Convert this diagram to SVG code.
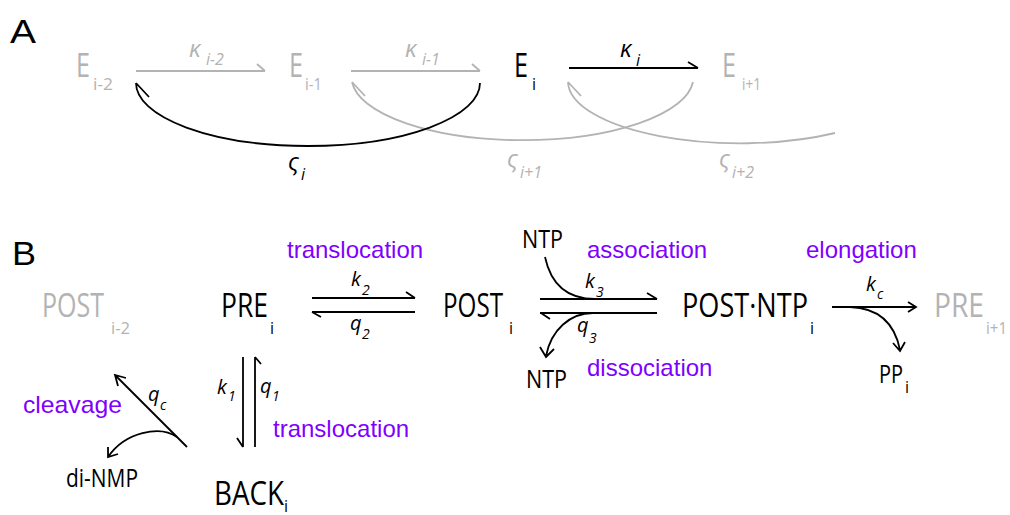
<svg xmlns="http://www.w3.org/2000/svg" width="1010" height="515" viewBox="0 0 1010 515">
<style>
.n{font-family:"Open Sans","Noto Sans",sans-serif;font-size:33px;fill:#000}
.s{font-family:"Open Sans","Noto Sans",sans-serif;font-size:25px;fill:#000}
.sub{font-family:"Open Sans","Noto Sans",sans-serif;font-size:16px;fill:#000}
.r{font-family:"Open Sans","Noto Sans",sans-serif;font-style:italic;font-size:20px;fill:#000}
.g{font-family:"Open Sans","Noto Sans",sans-serif;font-style:italic;font-size:24px;fill:#000}
.rs{font-family:"Open Sans","Noto Sans",sans-serif;font-style:italic;font-size:14px;fill:#000}
.gs{font-family:"Open Sans","Noto Sans",sans-serif;font-style:italic;font-size:16px;fill:#000}
.p{font-family:"Liberation Sans",Arial,sans-serif;font-size:24px;fill:#7f00ff}
.lab{font-family:"Liberation Sans",Arial,sans-serif;font-size:34px;fill:#000}
.gr{fill:#b3b3b3}
.c{fill:none;stroke:#000;stroke-width:1.8}
.cg{fill:none;stroke:#b3b3b3;stroke-width:1.8}
</style>
<text class="lab" x="10" y="43" textLength="26" lengthAdjust="spacingAndGlyphs">A</text>
<text class="lab" x="12" y="265" textLength="24" lengthAdjust="spacingAndGlyphs">B</text>

<g id="connectors">
  <!-- panel A -->
  <path class="cg" d="M136,71 H265 M257,64 L265,71"/>
  <path class="cg" d="M351,71 H480 M472,64 L480,71"/>
  <path class="c" d="M569,68 H698 M688,62 L698,68"/>
  <path class="cg" d="M835,133 A172,62 0 0 1 568,82 M568,82 L581,96"/>
  <path class="cg" d="M693,82 A171,63 0 0 1 352,82 M352,82 L365,96"/>
  <path class="c" d="M480,83 A172,63 0 0 1 136,83 M136,83 L149,97"/>
  <!-- panel B -->
  <path class="c" d="M312,298 H415 M406,292 L415,298"/>
  <path class="c" d="M312,312 H415 M312,312 L321,317"/>
  <path class="c" d="M540,299 H657 M647,293 L657,299"/>
  <path class="c" d="M540,313 H657 M541,313 L550,319"/>
  <path class="c" d="M545,257 C551,285 568,299 595,299"/>
  <path class="c" d="M593,313 C570,313 551,330 546,356 M540,347 L546,357 L554,349"/>
  <path class="c" d="M832,307 H916 M908,302 L916,307 L908,312"/>
  <path class="c" d="M850,307 C880,308 895,325 900,350 M893,343 L900,351 L905,342"/>
  <path class="c" d="M243,357 V447 M237,438 L243,447"/>
  <path class="c" d="M255,447 V357 M255,357 L261,364"/>
  <path class="c" d="M187,447 L115,375 M118,386 L115,375 L126,378"/>
  <path class="c" d="M177,437 C160,425 125,432 108,457 M108,447 L108,457 L118,454"/>
</g>

<g id="E_im2"><text class="n gr" x="76" y="77" textLength="14" lengthAdjust="spacingAndGlyphs">E</text><text class="sub gr" x="93" y="90" textLength="20" lengthAdjust="spacingAndGlyphs">i-2</text></g>
<g id="E_im1"><text class="n gr" x="289" y="77" textLength="14" lengthAdjust="spacingAndGlyphs">E</text><text class="sub gr" x="305" y="90" textLength="17" lengthAdjust="spacingAndGlyphs">i-1</text></g>
<g id="E_i"><text class="n" x="514" y="77" textLength="14" lengthAdjust="spacingAndGlyphs">E</text><text class="sub" x="532" y="90">i</text></g>
<g id="E_ip1"><text class="n gr" x="722" y="77" textLength="14" lengthAdjust="spacingAndGlyphs">E</text><text class="sub gr" x="742" y="90" textLength="19" lengthAdjust="spacingAndGlyphs">i+1</text></g>

<g id="rates_A">
  <text class="g gr" x="189" y="57">κ</text><text class="gs gr" x="206" y="65">i-2</text>
  <text class="g gr" x="405" y="57">κ</text><text class="gs gr" x="422" y="65">i-1</text>
  <text class="g" x="620" y="57">κ</text><text class="gs" x="636" y="66">i</text>
  <text class="g" x="288" y="170">ς</text><text class="gs" x="301" y="180">i</text>
  <text class="g gr" x="507" y="167">ς</text><text class="gs gr" x="520" y="178">i+1</text>
  <text class="g gr" x="719" y="167">ς</text><text class="gs gr" x="732" y="178">i+2</text>
</g>

<g id="POST_im2"><text class="n gr" x="42" y="317" textLength="62" lengthAdjust="spacingAndGlyphs">POST</text><text class="sub gr" x="111" y="334" textLength="19" lengthAdjust="spacingAndGlyphs">i-2</text></g>
<g id="PRE_i"><text class="n" x="221" y="317" textLength="47" lengthAdjust="spacingAndGlyphs">PRE</text><text class="sub" x="270" y="334">i</text></g>
<g id="POST_i"><text class="n" x="443" y="317" textLength="60" lengthAdjust="spacingAndGlyphs">POST</text><text class="sub" x="509" y="334">i</text></g>
<g id="POSTNTP_i"><text class="n" x="682" y="317" textLength="126" lengthAdjust="spacingAndGlyphs">POST·NTP</text><text class="sub" x="810" y="334">i</text></g>
<g id="PRE_ip1"><text class="n gr" x="934" y="317" textLength="50" lengthAdjust="spacingAndGlyphs">PRE</text><text class="sub gr" x="986" y="334" textLength="21" lengthAdjust="spacingAndGlyphs">i+1</text></g>
<g id="BACK_i"><text class="n" x="214" y="505" textLength="70" lengthAdjust="spacingAndGlyphs">BACK</text><text class="sub" x="284" y="512">i</text></g>
<g id="NTP_in"><text class="s" x="522" y="248" textLength="41" lengthAdjust="spacingAndGlyphs">NTP</text></g>
<g id="NTP_out"><text class="s" x="526" y="388" textLength="41" lengthAdjust="spacingAndGlyphs">NTP</text></g>
<g id="PP_i"><text class="s" x="879" y="383" textLength="24" lengthAdjust="spacingAndGlyphs">PP</text><text class="sub" x="905" y="393" font-size="14">i</text></g>
<g id="diNMP"><text class="s" x="66" y="487" textLength="72" lengthAdjust="spacingAndGlyphs">di-NMP</text></g>

<g id="rates_B">
  <text class="r" x="351" y="286">k</text><text class="rs" x="362" y="295">2</text>
  <text class="r" x="350" y="330">q</text><text class="rs" x="362" y="339">2</text>
  <text class="r" x="585" y="288">k</text><text class="rs" x="596" y="297">3</text>
  <text class="r" x="577" y="332">q</text><text class="rs" x="589" y="343">3</text>
  <text class="r" x="866" y="291">k</text><text class="rs" x="877" y="299">c</text>
  <text class="r" x="217" y="394">k</text><text class="rs" x="228" y="401">1</text>
  <text class="r" x="260" y="393">q</text><text class="rs" x="272" y="401">1</text>
  <text class="r" x="148" y="401">q</text><text class="rs" x="160" y="410">c</text>
</g>

<g id="labels">
  <text class="p" x="287" y="258">translocation</text>
  <text class="p" x="587" y="258">association</text>
  <text class="p" x="587" y="376">dissociation</text>
  <text class="p" x="806" y="258">elongation</text>
  <text class="p" x="273" y="437">translocation</text>
  <text class="p" x="23" y="413" font-size="20" textLength="99" lengthAdjust="spacingAndGlyphs">cleavage</text>
</g>
</svg>
